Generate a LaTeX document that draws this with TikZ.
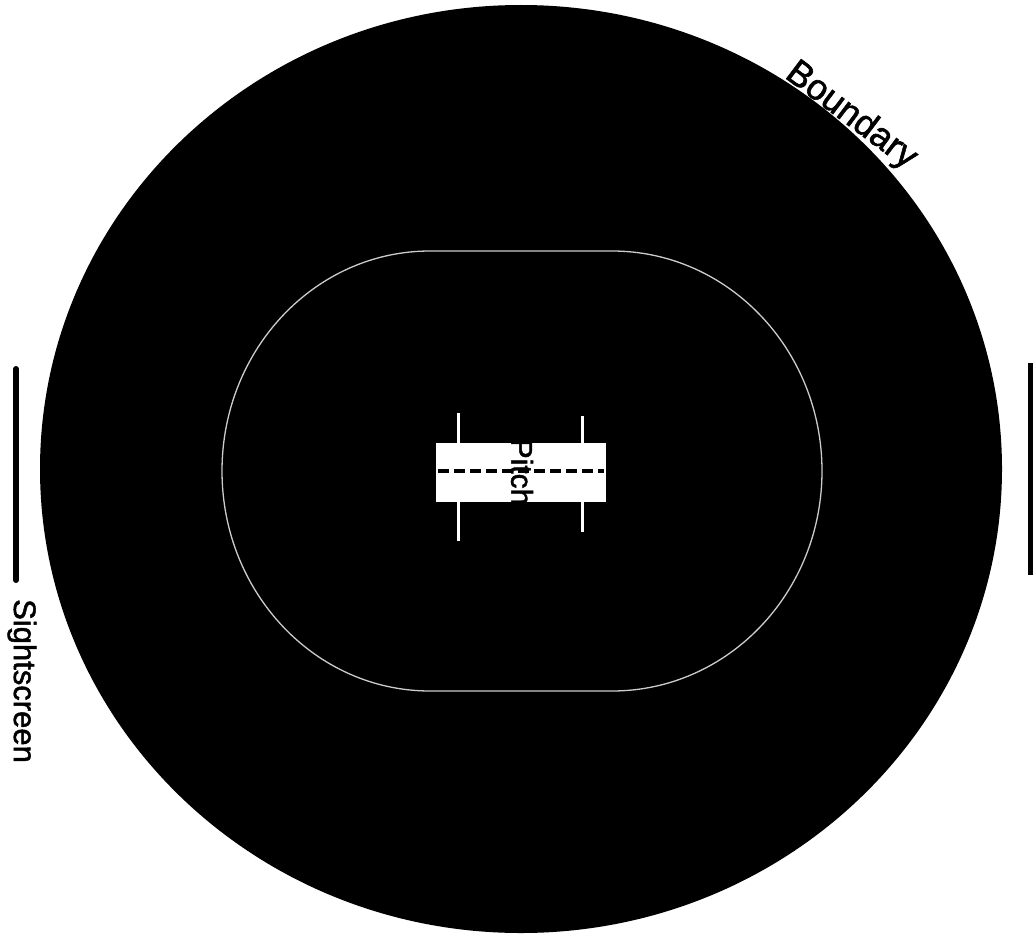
\documentclass[tikz,border=0pt]{standalone}
\usepackage{fontspec}
\setmainfont[FakeBold=1.6]{Liberation Sans}
\tikzset{
  field/.style={fill=black,draw=none},
  circuit/.style={draw=white!80!black,line width=1.3pt},
  pitchbox/.style={fill=white,draw=none},
  crease/.style={draw=white,line width=3pt},
  midline/.style={draw=black,line width=3.5pt,dash pattern=on 11pt off 5pt},
  screen/.style={draw=black,line width=6pt},
  lab/.style={text=black,inner sep=0pt,font=\fontsize{#1}{#1}\selectfont}
}
\begin{document}
\begin{tikzpicture}[x=1pt,y=-1pt]
\useasboundingbox (0,0) rectangle (1033,942);
\fill[white] (0,0) rectangle (1033,942);
\path[field] (521,469) ellipse [x radius=481, y radius=464];
\draw[circuit] (430,251) -- (612,251) arc [start angle=-90,end angle=90,x radius=210,y radius=220] -- (430,691) arc [start angle=90,end angle=270,x radius=208,y radius=220] -- cycle;
\draw[crease] (458,413) -- (458,445);
\draw[crease] (458,500) -- (458,541);
\draw[crease] (582,416) -- (582,445);
\draw[crease] (582,500) -- (582,532);
\path[pitchbox] (436,443) rectangle (606,502);
\draw[midline] (438,471) -- (604,471);
\node[lab=30,rotate=-90] (pitch) at (522,472) {Pitch};
\draw[screen,line cap=round] (16,369) -- (16,580);
\draw[screen] (1031,363) -- (1031,575);
\node[lab=31,rotate=-90] (sight) at (22,681) {Sightscreen};
\node[lab=36,rotate=-37] (bound) at (851,116) {Boundary};
\end{tikzpicture}
\end{document}
